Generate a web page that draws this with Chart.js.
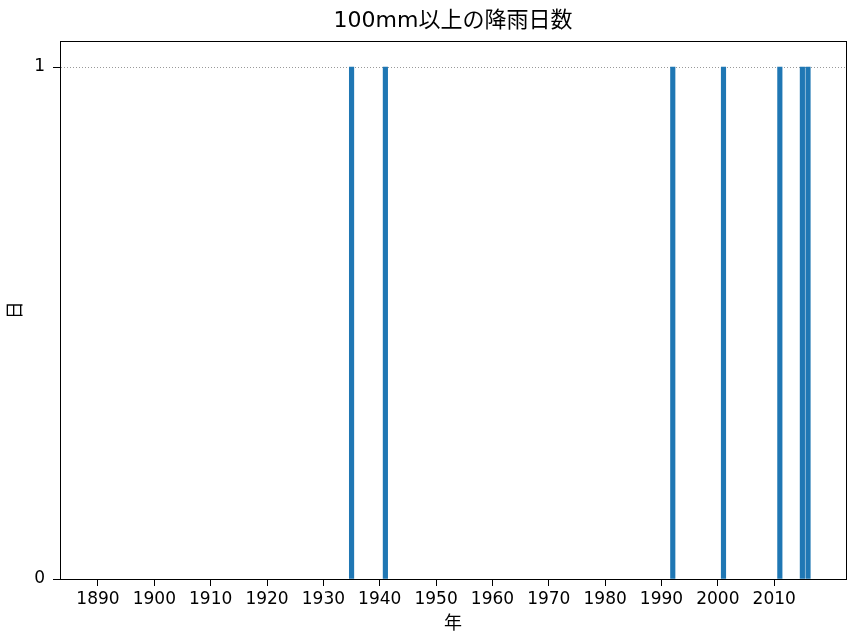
<!DOCTYPE html>
<html>
<head>
<meta charset="utf-8">
<script src="https://cdn.jsdelivr.net/npm/chart.js@4.4.0/dist/chart.umd.min.js"></script>
<style>
	body { margin: 0; background: #fff; }
	#wrap { width: 849px; height: 637px; }
</style>
</head>
<body>
<div id="wrap"><canvas id="myChart" width="849" height="637"></canvas></div>
<script>
// # ===============================
// # = Donnees
// # ===============================
var rainYears = [1935, 1941, 1992, 2001, 2011, 2015, 2016];
var rainDays = [1, 1, 1, 1, 1, 1, 1];
var xTickYears = [1890, 1900, 1910, 1920, 1930, 1940, 1950, 1960, 1970, 1980, 1990, 2000, 2010];
var yTickValues = [0, 1];
var xMin = 1883.26, xMax = 2022.74;
var yMax = 1.05;

var police = "'DejaVu Sans', 'Noto Sans CJK JP', sans-serif";

var cadre = {
	id: 'cadre',
	afterDraw: function(chart) {
		var a = chart.chartArea, c = chart.ctx;
		c.save();
		c.strokeStyle = '#000';
		c.lineWidth = 1;
		c.strokeRect(Math.round(a.left) + 0.5, Math.round(a.top) + 0.5,
			Math.round(a.right - a.left), Math.round(a.bottom - a.top));
		c.restore();
	}
};

var dt = [];
rainYears.forEach((y, i) => {
	dt.push({ x: y, y: rainDays[i] });
});

const ctx = document.getElementById('myChart');
new Chart(ctx, {
	type: 'bar',
	data: {
		datasets: [{
			label: '日数',
			data: dt,
			backgroundColor: '#1f77b4',
			borderWidth: 0,
			barThickness: 4.5
		}]
	},
	options: {
		responsive: false,
		animation: false,
		layout: { padding: { left: 0, right: 3, top: 0, bottom: 0 } },
		plugins: {
			legend: { display: false },
			tooltip: { enabled: false },
			title: {
				display: true,
				fullSize: false,
				text: '100mm以上の降雨日数',
				color: '#000',
				font: { family: police, size: 22, weight: 'normal' },
				padding: { top: 8, bottom: 7 }
			}
		},
		scales: {
			x: {
				type: 'linear',
				offset: false,
				min: xMin,
				max: xMax,
				afterBuildTicks: function(axis) {
					axis.ticks = xTickYears.map(v => ({ value: v }));
				},
				afterFit: function(axis) { axis.height = 58; },
				ticks: {
					color: '#000',
					font: { family: police, size: 17 },
					padding: 3,
					maxRotation: 0,
					autoSkip: false,
					callback: function(v) { return String(v); }
				},
				grid: {
					display: true,
					offset: false,
					drawOnChartArea: false,
					drawTicks: true,
					tickLength: 7,
					tickColor: '#000'
				},
				border: { display: true, color: '#000', width: 1 },
				title: {
					display: true,
					text: '年',
					color: '#000',
					font: { family: police, size: 18 },
					padding: { top: 2, bottom: 2 }
				}
			},
			y: {
				type: 'linear',
				min: 0,
				max: yMax,
				afterBuildTicks: function(axis) {
					axis.ticks = yTickValues.map(v => ({ value: v }));
				},
				afterFit: function(axis) { axis.width = 60; },
				ticks: {
					color: '#000',
					font: { family: police, size: 17 },
					padding: 8,
					callback: function(v) { return String(v); }
				},
				grid: {
					display: true,
					drawOnChartArea: true,
					drawTicks: true,
					tickLength: 7,
					tickColor: '#000',
					color: function(c) {
						return c.tick && c.tick.value === 1 ? '#999' : 'rgba(0,0,0,0)';
					},
					lineWidth: 1
				},
				border: { display: true, color: '#000', width: 1, dash: [1, 2] },
				title: {
					display: true,
					text: '日',
					color: '#000',
					font: { family: police, size: 18 },
					padding: { top: 6, bottom: 6 }
				}
			}
		}
	},
	plugins: [cadre]
});
</script>
</body>
</html>
